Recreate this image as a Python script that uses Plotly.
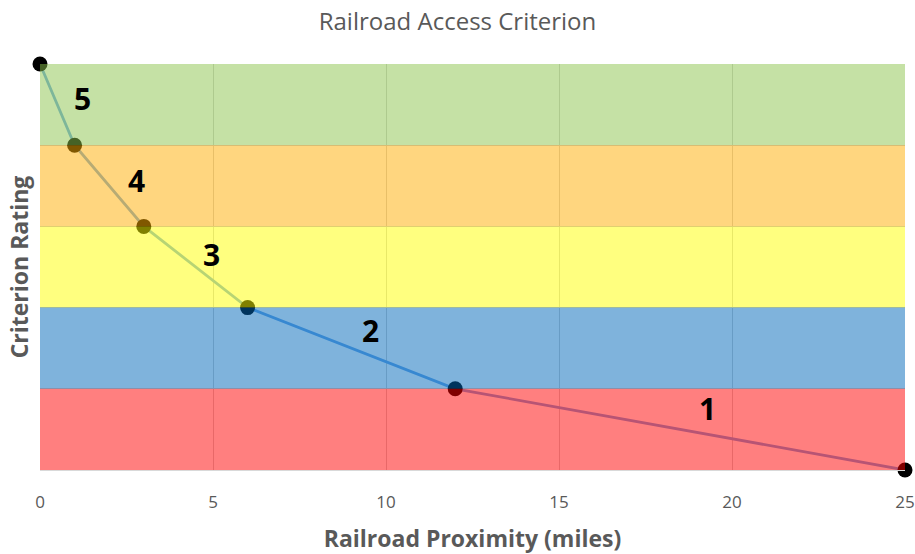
import plotly.graph_objects as go

# Data
proximity_miles = [0, 1, 3, 6, 12, 25]
rating = [5, 4, 3, 2, 1, 0]

band_low = [4, 3, 2, 1, 0]
band_high = [5, 4, 3, 2, 1]
band_colors = ["#8BC34B", "#FFAD00", "#FFFF00", "#0067B9", "#FF0000"]

label_text = ["5", "4", "3", "2", "1"]
label_x = [1.24, 2.8, 4.97, 9.54, 19.3]
label_y = [4.58, 3.57, 2.65, 1.72, 0.76]

x_ticks = [0, 5, 10, 15, 20, 25]

grey = "#595959"
font_family = "Open Sans, Liberation Sans, sans-serif"

fig = go.Figure()

fig.add_trace(go.Scatter(
    x=proximity_miles, y=rating,
    mode="lines+markers",
    line=dict(color="#6FA8E8", width=2.8),
    marker=dict(color="black", size=15),
    cliponaxis=False,
    showlegend=False,
))

for lo, hi, c in zip(band_low, band_high, band_colors):
    fig.add_shape(type="rect", xref="x", yref="y", x0=0, x1=25, y0=lo, y1=hi,
                  fillcolor=c, opacity=0.5, line=dict(width=0), layer="above")

for t, x, y in zip(label_text, label_x, label_y):
    fig.add_annotation(x=x, y=y, text=t, showarrow=False,
                       font=dict(family=font_family, size=30, color="black", weight="bold"))

fig.update_layout(
    width=915, height=554,
    margin=dict(l=40, r=10, t=64, b=84),
    paper_bgcolor="white", plot_bgcolor="white",
    title=dict(text="Railroad Access Criterion", x=0.5, xanchor="center",
               y=1 - 22 / 554, yanchor="middle",
               font=dict(family=font_family, size=24, color=grey)),
    xaxis=dict(range=[0, 25], tickvals=x_ticks, showgrid=True, gridcolor="#D0D0D0",
               gridwidth=1, zeroline=False, showline=True, linecolor="#D9D9D9",
               linewidth=1, ticks="", ticklabelstandoff=17, automargin=False,
               tickfont=dict(family=font_family, size=17, color=grey),
               title=dict(text="Railroad Proximity (miles)", standoff=18,
                          font=dict(family=font_family, size=23, color=grey, weight="bold"))),
    yaxis=dict(range=[0, 5], tickvals=[1, 2, 3, 4, 5], showticklabels=False,
               showgrid=True, gridcolor="#C8C8C8", gridwidth=1, zeroline=False,
               showline=False, automargin=False,
               title=dict(text="Criterion Rating", standoff=3,
                          font=dict(family=font_family, size=23, color=grey, weight="bold"))),
)

fig.write_html("out.html")
